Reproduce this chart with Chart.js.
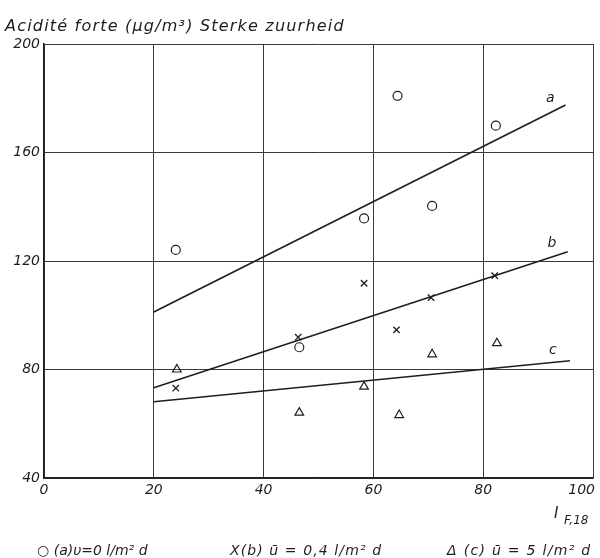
<!DOCTYPE html>
<html>
<head>
<meta charset="utf-8">
<script src="https://cdn.jsdelivr.net/npm/chart.js@4/dist/chart.umd.min.js"></script>
<style>
  html, body { margin: 0; padding: 0; background: #fff; }
  #wrap { width: 600px; height: 558px; position: relative; }
</style>
</head>
<body>
<div id="wrap"><canvas id="chart"></canvas></div>
<script>
// measured points, x = I F,18, y = acidité forte (µg/m³)
const xA = [24.0, 46.5, 58.3, 64.4, 70.7, 82.3];
const yA = [124.1, 88.2, 135.7, 180.9, 140.3, 169.9];
const xB = [24.0, 46.3, 58.3, 64.2, 70.5, 82.1];
const yB = [73.1, 91.9, 111.8, 94.6, 106.5, 114.6];
const xC = [24.2, 46.5, 58.3, 64.7, 70.7, 82.5];
const yC = [80.0, 64.1, 73.7, 63.2, 85.6, 89.7];

// regression lines (start / end)
const fitA = [[20, 101.2], [95.0, 177.5]];
const fitB = [[20, 73.3], [95.4, 123.4]];
const fitC = [[20, 68.1], [95.8, 83.2]];

const xTicks = [0, 20, 40, 60, 80, 100];
const yTicks = [40, 80, 120, 160, 200];

const titleText = "Acidité forte (µg/m³) Sterke zuurheid";
const legendText = ["○ (a)υ=0 l/m² d", "X(b) ū = 0,4 l/m² d", "Δ (c) ū = 5 l/m² d"];
const lineNames = ["a", "b", "c"];
const lineLabelPos = [[92.2, 180], [92.5, 126.6], [92.7, 87.2]];

const FONT = "'DejaVu Sans', sans-serif";
const INK = "#1e1e1e";

const pts = (xs, ys) => xs.map((x, i) => ({ x: x, y: ys[i] }));
const seg = f => f.map(p => ({ x: p[0], y: p[1] }));

// text that sits outside the axes: title, x tick labels, axis name, legend, line letters
const annotations = {
  id: "annotations",
  afterDraw(chart) {
    const ctx = chart.ctx;
    const xs = chart.scales.x, ys = chart.scales.y;
    const bottom = chart.chartArea.bottom;
    ctx.save();
    ctx.fillStyle = INK;
    ctx.textBaseline = "alphabetic";

    ctx.font = "italic 16px " + FONT;
    ctx.textAlign = "left";
    ctx.letterSpacing = "1.2px";
    ctx.fillText(titleText, 5, 31);
    ctx.letterSpacing = "0px";

    // x tick labels, the last one pulled inside the frame
    ctx.font = "italic 14px " + FONT;
    ctx.textBaseline = "top";
    xTicks.forEach((v, i) => {
      const last = i === xTicks.length - 1;
      ctx.textAlign = last ? "right" : "center";
      ctx.fillText(String(v), xs.getPixelForValue(v) + (last ? 2 : 0), bottom + 5);
    });

    // I F,18
    ctx.textAlign = "left";
    ctx.textBaseline = "alphabetic";
    ctx.font = "italic 15px " + FONT;
    ctx.fillText("I", 554, 518);
    ctx.font = "italic 12px " + FONT;
    ctx.fillText("F,18", 564, 524);

    ctx.font = "italic 14px " + FONT;
    const spacing = ["0px", "1.1px", "1.3px"];
    const startX = [37, 230, 447];
    legendText.forEach((t, i) => {
      ctx.letterSpacing = spacing[i];
      ctx.fillText(t, startX[i], 555);
    });
    ctx.letterSpacing = "0px";

    ctx.font = "italic 14px " + FONT;
    ctx.textAlign = "center";
    ctx.textBaseline = "middle";
    lineLabelPos.forEach((p, i) => {
      ctx.fillText(lineNames[i], xs.getPixelForValue(p[0]), ys.getPixelForValue(p[1]));
    });
    ctx.restore();
  }
};

const lineDs = (data) => ({
  type: "line",
  data: seg(data),
  borderColor: INK,
  borderWidth: 1.6,
  pointRadius: 0,
  fill: false
});

new Chart(document.getElementById("chart"), {
  type: "scatter",
  data: {
    datasets: [
      { data: pts(xA, yA), pointStyle: "circle", pointRadius: 4.5, borderColor: INK, borderWidth: 1.2, backgroundColor: "rgba(0,0,0,0)" },
      { data: pts(xB, yB), pointStyle: "crossRot", pointRadius: 4.5, borderColor: INK, borderWidth: 1.3 },
      { data: pts(xC, yC), pointStyle: "triangle", pointRadius: 5, borderColor: INK, borderWidth: 1.2, backgroundColor: "rgba(0,0,0,0)" },
      lineDs(fitA),
      lineDs(fitB),
      lineDs(fitC)
    ]
  },
  options: {
    responsive: true,
    maintainAspectRatio: false,
    animation: false,
    events: [],
    layout: { padding: { top: 44, right: 7, left: 0, bottom: 0 } },
    plugins: { legend: { display: false }, tooltip: { enabled: false } },
    scales: {
      x: {
        type: "linear",
        min: 0, max: 100,
        afterBuildTicks: s => { s.ticks = xTicks.map(v => ({ value: v })); },
        afterFit: s => { s.height = 80; s.paddingLeft = 0; s.paddingRight = 0; },
        grid: { color: "#3a3a3a", lineWidth: 1, drawTicks: false },
        border: { color: INK, width: 1.5 },
        ticks: { display: false }
      },
      y: {
        type: "linear",
        min: 40, max: 200,
        afterBuildTicks: s => { s.ticks = yTicks.map(v => ({ value: v })); },
        afterFit: s => { s.width = 44; },
        grid: { color: "#3a3a3a", lineWidth: 1, drawTicks: false },
        border: { color: INK, width: 1.5 },
        ticks: { color: INK, padding: 4, font: { family: FONT, size: 14, style: "italic" } }
      }
    }
  },
  plugins: [annotations]
});
</script>
</body>
</html>
